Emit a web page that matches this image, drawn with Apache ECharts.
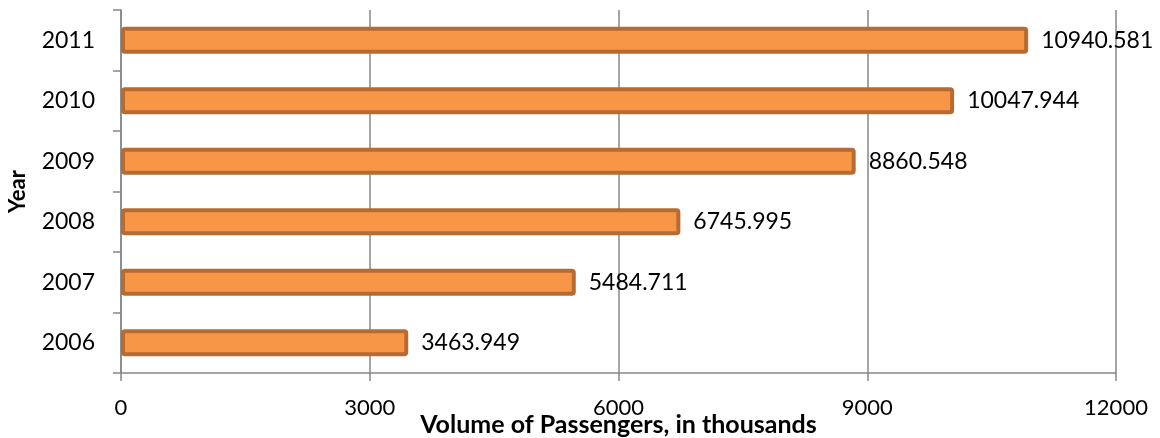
<!DOCTYPE html>
<html>
<head>
<meta charset="utf-8">
<script src="https://cdn.jsdelivr.net/npm/echarts@6/dist/echarts.min.js"></script>
<style>
  html, body { margin: 0; padding: 0; background: #ffffff; }
  #chart { width: 1160px; height: 438px; }
</style>
</head>
<body>
<div id="chart"></div>
<script>
// Passenger volume per year (thousands)
const years = ['2006', '2007', '2008', '2009', '2010', '2011'];
const passengers = [3463.949, 5484.711, 6745.995, 8860.548, 10047.944, 10940.581];
const xTicks = [0, 3000, 6000, 9000, 12000];

const FONT = 'Lato, "Open Sans", sans-serif';
const AXIS_GREY = '#878787';

const chart = echarts.init(document.getElementById('chart'), null, { renderer: 'canvas' });

chart.setOption({
  animation: false,
  backgroundColor: '#ffffff',
  grid: {
    left: 121, right: 44, top: 10, bottom: 65,
    containLabel: false,
    outerBoundsMode: 'none'
  },
  xAxis: {
    type: 'value',
    min: xTicks[0],
    max: xTicks[xTicks.length - 1],
    interval: xTicks[1] - xTicks[0],
    name: 'Volume of Passengers, in thousands',
    nameLocation: 'middle',
    nameGap: 39,
    nameMoveOverlap: false,
    nameTextStyle: { fontFamily: FONT, fontSize: 25, fontWeight: 'bold', color: '#000' },
    axisLine: { show: true, lineStyle: { color: AXIS_GREY, width: 1.5 } },
    axisTick: { show: true, length: 8, lineStyle: { color: AXIS_GREY, width: 1.5 } },
    axisLabel: {
      fontFamily: FONT, fontSize: 22, color: '#000', margin: 24,
      formatter: v => String(v)
    },
    splitLine: { show: true, lineStyle: { color: AXIS_GREY, width: 1.5 } }
  },
  yAxis: {
    type: 'category',
    data: years,
    name: 'Year',
    nameLocation: 'middle',
    nameGap: 92,
    nameRotate: 90,
    nameMoveOverlap: false,
    nameTextStyle: { fontFamily: FONT, fontSize: 22, fontWeight: 'bold', color: '#000' },
    axisLine: { show: true, lineStyle: { color: AXIS_GREY, width: 1.5 } },
    axisTick: { show: true, length: 8, alignWithLabel: false, lineStyle: { color: AXIS_GREY, width: 1.5 } },
    axisLabel: { fontFamily: FONT, fontSize: 23, color: '#000', margin: 26 },
    splitLine: { show: false }
  },
  series: [{
    type: 'bar',
    data: passengers,
    barWidth: 27,
    itemStyle: {
      color: '#F79646',
      borderColor: '#B66B32',
      borderWidth: 4,
      borderRadius: 2
    },
    label: {
      show: true,
      position: 'right',
      distance: 13,
      fontFamily: FONT,
      fontSize: 23,
      color: '#000',
      formatter: p => p.value.toFixed(3)
    }
  }]
});
</script>
</body>
</html>
